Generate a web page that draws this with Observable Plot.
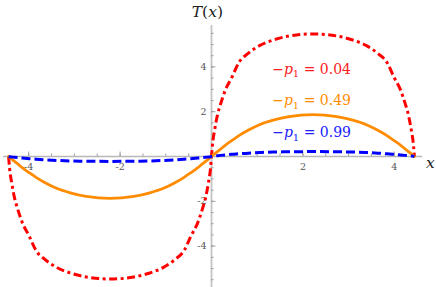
<!DOCTYPE html>
<html><head><meta charset="utf-8">
<script src="https://cdn.jsdelivr.net/npm/d3@7"></script>
<script src="https://cdn.jsdelivr.net/npm/@observablehq/plot@0.6"></script>
<style>body{margin:0;background:#fff} svg{display:block}</style>
</head><body><div id="chart"></div>
<script>
const xs = [-4.44, -4.42, -4.37, -4.31, -4.24, -4.14, -3.99, -3.84, -3.64, -3.39, -3.09, -2.74, -2.22, -1.7, -1.35, -1.05, -0.8, -0.6, -0.45, -0.3, -0.2, -0.13, -0.07, -0.02,
  0, 0.02, 0.07, 0.13, 0.2, 0.3, 0.45, 0.6, 0.8, 1.05, 1.35, 1.7, 2.22, 2.74, 3.09, 3.39, 3.64, 3.84, 3.99, 4.14, 4.24, 4.31, 4.37, 4.42, 4.44];
const redVals = [0, -0.5, -1.2, -1.85, -2.35, -2.95, -3.55, -4.2, -4.6, -4.95, -5.2, -5.38, -5.47, -5.38, -5.2, -4.95, -4.6, -4.2, -3.55, -2.95, -2.35, -1.85, -1.2, -0.5,
  0, 0.5, 1.2, 1.85, 2.35, 2.95, 3.55, 4.2, 4.6, 4.95, 5.2, 5.38, 5.47, 5.38, 5.2, 4.95, 4.6, 4.2, 3.55, 2.95, 2.35, 1.85, 1.2, 0.5, 0];
const orangeVals = [0, -0.035, -0.12, -0.22, -0.33, -0.5, -0.72, -0.93, -1.17, -1.42, -1.62, -1.78, -1.87, -1.78, -1.62, -1.42, -1.17, -0.93, -0.72, -0.5, -0.33, -0.22, -0.12, -0.035,
  0, 0.035, 0.12, 0.22, 0.33, 0.5, 0.72, 0.93, 1.17, 1.42, 1.62, 1.78, 1.87, 1.78, 1.62, 1.42, 1.17, 0.93, 0.72, 0.5, 0.33, 0.22, 0.12, 0.035, 0];
const blueVals = [0, -0.01, -0.02, -0.035, -0.05, -0.07, -0.1, -0.12, -0.15, -0.175, -0.2, -0.21, -0.22, -0.21, -0.2, -0.175, -0.15, -0.12, -0.1, -0.07, -0.05, -0.035, -0.02, -0.01,
  0, 0.01, 0.02, 0.035, 0.05, 0.07, 0.1, 0.12, 0.15, 0.175, 0.2, 0.21, 0.22, 0.21, 0.2, 0.175, 0.15, 0.12, 0.1, 0.07, 0.05, 0.035, 0.02, 0.01, 0];
const seriesLabels = ["0.04", "0.49", "0.99"];
const majorTicksX = [-4, -2, 2, 4];
const majorTicksY = [-4, -2, 2, 4];
const minorTicksX = [-4, -3.5, -3, -2.5, -2, -1.5, -1, -0.5, 0.5, 1, 1.5, 2, 2.5, 3, 3.5, 4];
const minorTicksY = [-5.5, -5, -4.5, -4, -3.5, -3, -2.5, -2, -1.5, -1, -0.5, 0.5, 1, 1.5, 2, 2.5, 3, 3.5, 4, 4.5, 5, 5.5];

const KX = 45.7, KY = 22.4, OX = 211, OY = 156;
const table = xs.map((x, i) => ({x, red: redVals[i], orange: orangeVals[i], blue: blueVals[i]}));
const fmt = d => (d < 0 ? "-" + Math.abs(d) : String(d));
const labelColors = ["#ff2020", "#ff8c00", "#2020ff"];
const labelY = [3.89, 2.48, 1.05];
const SERIF = "DejaVu Serif";

const chart = Plot.plot({
  width: 436, height: 287, margin: 0,
  style: {background: "#fff", overflow: "visible"},
  x: {domain: [-OX / KX, (436 - OX) / KX], axis: null},
  y: {domain: [-(287 - OY) / KY, OY / KY], axis: null},
  marks: [
    Plot.ruleY([0], {x1: -4.55, x2: 4.62, stroke: "#b8b8b8", strokeWidth: 1.4}),
    Plot.ruleX([0], {y1: -5.9, y2: 5.85, stroke: "#c4c4c4", strokeWidth: 1.8}),
    Plot.ruleX(minorTicksX, {x: d => d, y1: 0, y2: 2.6 / KY, stroke: "#9a9a9a", strokeWidth: 0.9}),
    Plot.ruleX(majorTicksX, {x: d => d, y1: 0, y2: 4.5 / KY, stroke: "#9a9a9a", strokeWidth: 0.9}),
    Plot.ruleY(minorTicksY, {y: d => d, x1: 0, x2: 2.6 / KX, stroke: "#9a9a9a", strokeWidth: 0.9}),
    Plot.ruleY(majorTicksY, {y: d => d, x1: 0, x2: 4.5 / KX, stroke: "#9a9a9a", strokeWidth: 0.9}),
    Plot.text(majorTicksX, {x: d => d, y: 0, text: fmt, dy: 10, fontSize: 9.5, fill: "#555", fontFamily: SERIF}),
    Plot.text(majorTicksY, {x: 0, y: d => d, text: fmt, dx: -5, textAnchor: "end", fontSize: 9.5, fill: "#555", fontFamily: SERIF}),
    Plot.line(table, {x: "x", y: "red", stroke: "#ff0000", strokeWidth: 3, strokeDasharray: "8,3.5,3,3.5", strokeLinecap: "butt", curve: "monotone-x"}),
    Plot.line(table, {x: "x", y: "orange", stroke: "#ff8c00", strokeWidth: 2.8, curve: "monotone-x"}),
    Plot.line(table, {x: "x", y: "blue", stroke: "#0000ff", strokeWidth: 3, strokeDasharray: "9,4", strokeLinecap: "butt", curve: "monotone-x"}),
    Plot.text(seriesLabels, {x: 2.19, y: (d, i) => labelY[i], text: d => "−p1 = " + d, fill: (d, i) => labelColors[i], fontSize: 14, textAnchor: "middle", fontFamily: SERIF}),
    Plot.text(["T(x)"], {x: -0.09, y: 6.43, text: d => d, fontSize: 15.5, fill: "#222", fontFamily: SERIF}),
    Plot.text(["x"], {x: 4.79, y: -0.31, text: d => d, fontSize: 15.5, fill: "#222", fontStyle: "italic", fontFamily: SERIF})
  ]
});
document.getElementById("chart").appendChild(chart);

const NS = "http://www.w3.org/2000/svg";
function mathify(t, parts) {
  t.textContent = "";
  for (const p of parts) {
    const ts = document.createElementNS(NS, "tspan");
    ts.textContent = p.s;
    if (p.i) ts.setAttribute("font-style", "italic");
    if (p.sub) { ts.setAttribute("font-size", "10"); ts.setAttribute("dy", "3.5"); }
    if (p.back) ts.setAttribute("dy", "-3.5");
    t.appendChild(ts);
  }
}
chart.querySelectorAll("text").forEach(t => {
  const s = t.textContent;
  if (s.startsWith("−p1 = ")) {
    mathify(t, [{s: "−"}, {s: "p", i: true}, {s: "1", sub: true}, {s: " = " + s.slice(6), back: true}]);
  } else if (s === "T(x)") {
    mathify(t, [{s: "T", i: true}, {s: "("}, {s: "x", i: true}, {s: ")"}]);
  }
});
</script>
</body></html>
